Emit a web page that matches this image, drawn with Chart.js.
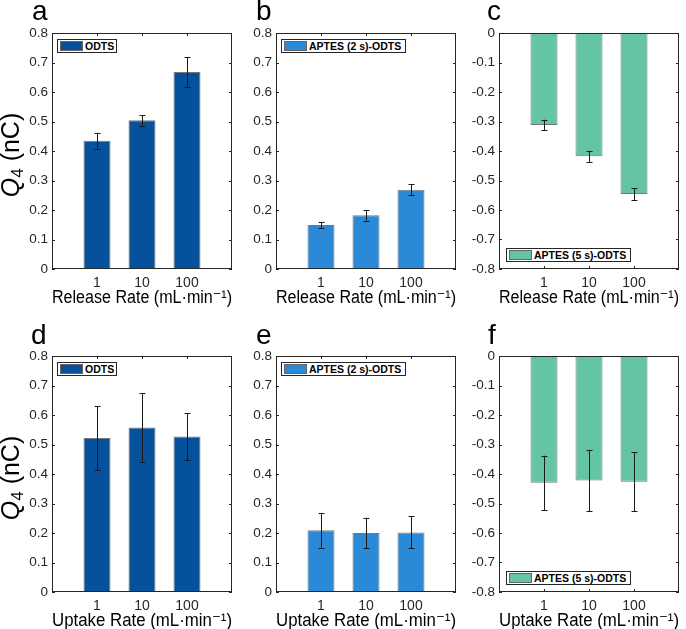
<!DOCTYPE html>
<html><head><meta charset="utf-8">
<script src="https://cdn.jsdelivr.net/npm/chart.js@4/dist/chart.umd.min.js"></script>
<style>
html,body{margin:0;padding:0;background:#fff;width:686px;height:629px;overflow:hidden;position:relative;font-family:"Liberation Sans",Arial,"DejaVu Sans",sans-serif;}
canvas{position:absolute;}
.letter{position:absolute;font-size:28px;line-height:28px;color:#000;}
.ytitle{position:absolute;font-size:25px;line-height:25px;color:#000;white-space:nowrap;transform:translate(-50%,-50%) rotate(-90deg);}
.ytitle sub{font-size:17px;vertical-align:-4px;}
.legend{position:absolute;height:14px;border:1px solid #262626;background:#fff;box-sizing:border-box;display:flex;align-items:center;font-weight:bold;font-size:10.5px;color:#000;white-space:nowrap;}
.legend .sw{width:23px;height:10px;margin:0 2px 0 2px;box-sizing:border-box;border:1px solid #666;}
</style></head>
<body>
<script>
// ---- data ----
const categories = ['1', '10', '100'];
const releaseODTS      = [0.435, 0.504, 0.668];
const releaseODTSErr   = [0.027, 0.018, 0.050];
const releaseAPTES2    = [0.149, 0.182, 0.269];
const releaseAPTES2Err = [0.011, 0.018, 0.019];
const releaseAPTES5    = [-0.312, -0.418, -0.546];
const releaseAPTES5Err = [0.018, 0.019, 0.020];
const uptakeODTS       = [0.522, 0.558, 0.527];
const uptakeODTSErr    = [0.108, 0.116, 0.079];
const uptakeAPTES2     = [0.209, 0.200, 0.202];
const uptakeAPTES2Err  = [0.059, 0.052, 0.054];
const uptakeAPTES5     = [-0.430, -0.422, -0.426];
const uptakeAPTES5Err  = [0.092, 0.104, 0.100];
const seriesNames = ['ODTS', 'APTES (2 s)-ODTS', 'APTES (5 s)-ODTS'];
const xTitles = ['Release Rate (mL·min⁻¹)', 'Uptake Rate (mL·min⁻¹)'];
const panelLetters = ['a', 'b', 'c', 'd', 'e', 'f'];

// ---- style / layout ----
const colors = ['#05519c', '#2b8ad8', '#64c5a5'];
const colLeft = [52, 276, 499];
const rowTop = [33, 356];
const PW = 180, PH = 236, YW = 52, PT = 33, PR = 8, XH = 50;
const letterPos = [[32, -3], [256, -3], [487, -3], [31, 321], [256, 321], [488, 321]];

const panels = [
  {vals: releaseODTS, err: releaseODTSErr, s: 0, row: 0, col: 0},
  {vals: releaseAPTES2, err: releaseAPTES2Err, s: 1, row: 0, col: 1},
  {vals: releaseAPTES5, err: releaseAPTES5Err, s: 2, row: 0, col: 2},
  {vals: uptakeODTS, err: uptakeODTSErr, s: 0, row: 1, col: 0},
  {vals: uptakeAPTES2, err: uptakeAPTES2Err, s: 1, row: 1, col: 1},
  {vals: uptakeAPTES5, err: uptakeAPTES5Err, s: 2, row: 1, col: 2},
];

const axisColor = '#262626';
const framePlugin = {
  id: 'frame',
  beforeDatasetsDraw(chart) {
    const {ctx, chartArea: {left, right, top, bottom}, scales: {x, y}} = chart;
    ctx.save();
    ctx.strokeStyle = axisColor; ctx.lineWidth = 1; ctx.beginPath();
    y.ticks.forEach(t => {
      const py = Math.round(y.getPixelForValue(t.value)) + 0.5;
      ctx.moveTo(left, py); ctx.lineTo(left + 3, py);
      ctx.moveTo(right, py); ctx.lineTo(right - 3, py);
    });
    x.ticks.forEach(t => {
      const px = Math.round(x.getPixelForValue(t.value)) + 0.5;
      ctx.moveTo(px, top); ctx.lineTo(px, top + 3);
      ctx.moveTo(px, bottom); ctx.lineTo(px, bottom - 3);
    });
    ctx.stroke(); ctx.restore();
  },
  afterDatasetsDraw(chart) {
    const {ctx, chartArea: {left, right, top, bottom}, scales: {x, y}} = chart;
    const ds = chart.data.datasets[0];
    ctx.save();
    ctx.strokeStyle = '#1a1a1a'; ctx.lineWidth = 1; ctx.beginPath();
    ds.data.forEach((p, i) => {
      const e = ds.errors[i];
      const px = Math.round(x.getPixelForValue(p.x)) + 0.5;
      const y1 = y.getPixelForValue(p.y + e), y2 = y.getPixelForValue(p.y - e);
      ctx.moveTo(px, y1); ctx.lineTo(px, y2);
      ctx.moveTo(px - 3, Math.round(y1) + 0.5); ctx.lineTo(px + 3, Math.round(y1) + 0.5);
      ctx.moveTo(px - 3, Math.round(y2) + 0.5); ctx.lineTo(px + 3, Math.round(y2) + 0.5);
    });
    ctx.stroke();
    ctx.strokeStyle = axisColor;
    ctx.strokeRect(left + 0.5, top + 0.5, right - left - 1, bottom - top - 1);
    ctx.restore();
  }
};

const fmt = v => Math.abs(v) < 1e-9 ? '0' : (+v).toFixed(1);
const fontFam = '"Liberation Sans", Arial, "DejaVu Sans", sans-serif';

panels.forEach((p, k) => {
  const cv = document.createElement('canvas');
  const L = colLeft[p.col] - YW, T = rowTop[p.row] - PT;
  cv.width = YW + PW + PR; cv.height = PT + PH + XH;
  cv.style.left = L + 'px'; cv.style.top = T + 'px';
  document.body.appendChild(cv);
  const neg = p.vals[0] < 0;
  new Chart(cv, {
    type: 'bar',
    data: {datasets: [{
      label: seriesNames[p.s],
      data: p.vals.map((v, i) => ({x: i + 1, y: v})),
      errors: p.err,
      backgroundColor: colors[p.s],
      borderColor: 'rgba(95,95,95,0.85)',
      borderWidth: 1,
      barPercentage: 0.6,
      categoryPercentage: 1
    }]},
    options: {
      responsive: false, animation: false,
      layout: {padding: {top: PT, right: PR, left: 0, bottom: 0}},
      plugins: {legend: {display: false}, tooltip: {enabled: false}},
      font: {family: fontFam},
      scales: {
        x: {
          type: 'linear', min: 0, max: 4, offset: false,
          grid: {display: false, drawTicks: false, offset: false}, border: {display: false},
          afterBuildTicks: s => { s.ticks = categories.map((c, i) => ({value: i + 1})); },
          ticks: {callback: v => categories[v - 1], font: {size: 14, family: fontFam}, color: axisColor,
                  padding: 6, maxRotation: 0, autoSkip: false},
          title: {display: true, text: xTitles[p.row], font: {size: 18, family: fontFam}, color: '#000',
                  padding: {top: 0, bottom: 10}},
          afterFit: s => { s.height = XH; }
        },
        y: {
          min: neg ? -0.8 : 0, max: neg ? 0 : 0.8,
          grid: {display: false, drawTicks: false}, border: {display: false},
          ticks: {stepSize: 0.1, callback: fmt, font: {size: 13.5, family: fontFam}, color: axisColor, padding: 4},
          afterFit: s => { s.width = YW; }
        }
      }
    },
    plugins: [framePlugin]
  });

  // legend
  const lg = document.createElement('div');
  lg.className = 'legend';
  const lw = p.s === 0 ? 60 : 125;
  lg.style.width = lw + 'px';
  lg.style.left = (colLeft[p.col] + (p.s === 2 ? 7 : 5)) + 'px';
  lg.style.top = (neg ? rowTop[p.row] + PH - 21 : rowTop[p.row] + 6) + 'px';
  lg.innerHTML = '<span class="sw" style="background:' + colors[p.s] + '"></span><span>' + seriesNames[p.s] + '</span>';
  document.body.appendChild(lg);

  // panel letter
  const lt = document.createElement('div');
  lt.className = 'letter';
  lt.textContent = panelLetters[k];
  lt.style.left = letterPos[k][0] + 'px'; lt.style.top = letterPos[k][1] + 'px';
  document.body.appendChild(lt);
});

// y-axis titles
[0, 1].forEach(r => {
  const t = document.createElement('div');
  t.className = 'ytitle';
  t.innerHTML = '<i>Q</i><sub>4</sub> (nC)';
  t.style.left = '14px';
  t.style.top = (rowTop[r] + PH / 2 + 4) + 'px';
  document.body.appendChild(t);
});
</script>
</body></html>
